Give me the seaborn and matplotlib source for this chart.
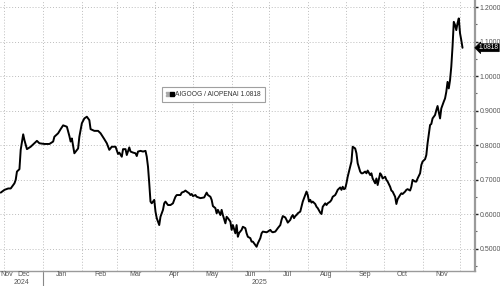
import numpy as np
import pandas as pd
import matplotlib
matplotlib.use("Agg")
import matplotlib.pyplot as plt
import matplotlib.transforms as mtransforms
from matplotlib.lines import Line2D
from matplotlib.legend_handler import HandlerTuple
import seaborn as sns

series_name = "AIGOOG / AIOPENAI"
last_value = 1.0818

dates = [
    "2024-11-28", "2024-12-01", "2024-12-04", "2024-12-06", "2024-12-09", "2024-12-10",
    "2024-12-11", "2024-12-13", "2024-12-14", "2024-12-16", "2024-12-17", "2024-12-19",
    "2024-12-22", "2024-12-25", "2024-12-27", "2024-12-29", "2025-01-02", "2025-01-06",
    "2025-01-09", "2025-01-10", "2025-01-13", "2025-01-15", "2025-01-17", "2025-01-20",
    "2025-01-22", "2025-01-23", "2025-01-24", "2025-01-26", "2025-01-29", "2025-01-30",
    "2025-02-01", "2025-02-03", "2025-02-05", "2025-02-07", "2025-02-08", "2025-02-11",
    "2025-02-14", "2025-02-16", "2025-02-19", "2025-02-21", "2025-02-23", "2025-02-25",
    "2025-02-28", "2025-03-02", "2025-03-03", "2025-03-05", "2025-03-06", "2025-03-08",
    "2025-03-09", "2025-03-11", "2025-03-12", "2025-03-14", "2025-03-16", "2025-03-17",
    "2025-03-18", "2025-03-20", "2025-03-22", "2025-03-24", "2025-03-25", "2025-03-26",
    "2025-03-27", "2025-03-28", "2025-03-29", "2025-03-31", "2025-04-01", "2025-04-02",
    "2025-04-04", "2025-04-05", "2025-04-07", "2025-04-08", "2025-04-09", "2025-04-11",
    "2025-04-13", "2025-04-15", "2025-04-16", "2025-04-17", "2025-04-18", "2025-04-21",
    "2025-04-22", "2025-04-24", "2025-04-25", "2025-04-26", "2025-04-28", "2025-04-29",
    "2025-04-30", "2025-05-01", "2025-05-03", "2025-05-04", "2025-05-07", "2025-05-10",
    "2025-05-11", "2025-05-12", "2025-05-13", "2025-05-15", "2025-05-16", "2025-05-17",
    "2025-05-19", "2025-05-20", "2025-05-21", "2025-05-23", "2025-05-24", "2025-05-25",
    "2025-05-27", "2025-05-28", "2025-05-29", "2025-05-31", "2025-06-01", "2025-06-02",
    "2025-06-04", "2025-06-05", "2025-06-06", "2025-06-07", "2025-06-09", "2025-06-10",
    "2025-06-12", "2025-06-13", "2025-06-14", "2025-06-16", "2025-06-17", "2025-06-18",
    "2025-06-20", "2025-06-21", "2025-06-22", "2025-06-24", "2025-06-25", "2025-06-26",
    "2025-06-29", "2025-06-30", "2025-07-02", "2025-07-03", "2025-07-04", "2025-07-06",
    "2025-07-07", "2025-07-08", "2025-07-10", "2025-07-11", "2025-07-12", "2025-07-14",
    "2025-07-15", "2025-07-16", "2025-07-18", "2025-07-19", "2025-07-20", "2025-07-21",
    "2025-07-22", "2025-07-23", "2025-07-24", "2025-07-26", "2025-07-27", "2025-07-28",
    "2025-07-30", "2025-07-31", "2025-08-01", "2025-08-02", "2025-08-03", "2025-08-04",
    "2025-08-05", "2025-08-07", "2025-08-08", "2025-08-09", "2025-08-11", "2025-08-12",
    "2025-08-13", "2025-08-15", "2025-08-16", "2025-08-17", "2025-08-19", "2025-08-20",
    "2025-08-21", "2025-08-23", "2025-08-24", "2025-08-25", "2025-08-27", "2025-08-28",
    "2025-08-29", "2025-08-30", "2025-08-31", "2025-09-01", "2025-09-02", "2025-09-04",
    "2025-09-05", "2025-09-06", "2025-09-08", "2025-09-09", "2025-09-10", "2025-09-12",
    "2025-09-13", "2025-09-14", "2025-09-16", "2025-09-17", "2025-09-18", "2025-09-20",
    "2025-09-21", "2025-09-22", "2025-09-24", "2025-09-25", "2025-09-26", "2025-09-28",
    "2025-09-29", "2025-09-30", "2025-10-02", "2025-10-03", "2025-10-04", "2025-10-06",
    "2025-10-07", "2025-10-08", "2025-10-10", "2025-10-11", "2025-10-12", "2025-10-14",
    "2025-10-15", "2025-10-16", "2025-10-18", "2025-10-19", "2025-10-20", "2025-10-22",
    "2025-10-23", "2025-10-24", "2025-10-26", "2025-10-27", "2025-10-28", "2025-10-30",
    "2025-10-31", "2025-11-01", "2025-11-03", "2025-11-04", "2025-11-05", "2025-11-07",
    "2025-11-08", "2025-11-09", "2025-11-11", "2025-11-12", "2025-11-13", "2025-11-15",
    "2025-11-16", "2025-11-17", "2025-11-18", "2025-11-19", "2025-11-20", "2025-11-21",
    "2025-11-22", "2025-11-23", "2025-11-24", "2025-11-25", "2025-11-26", "2025-11-27",
    "2025-11-28", "2025-11-29", "2025-11-30", "2025-12-01", "2025-12-02", "2025-12-03",
]

values = [
    0.662, 0.670, 0.674, 0.674, 0.689, 0.699,
    0.723, 0.730, 0.786, 0.831, 0.814, 0.788,
    0.795, 0.805, 0.812, 0.805, 0.803, 0.803,
    0.810, 0.824, 0.834, 0.846, 0.857, 0.853,
    0.826, 0.810, 0.819, 0.776, 0.790, 0.824,
    0.863, 0.877, 0.882, 0.872, 0.846, 0.841,
    0.841, 0.834, 0.817, 0.805, 0.786, 0.795,
    0.795, 0.774, 0.778, 0.766, 0.788, 0.788,
    0.771, 0.793, 0.781, 0.778, 0.776, 0.768,
    0.781, 0.783, 0.781, 0.783, 0.766, 0.737,
    0.689, 0.636, 0.631, 0.641, 0.607, 0.588,
    0.568, 0.592, 0.612, 0.631, 0.636, 0.626,
    0.626, 0.631, 0.641, 0.650, 0.655, 0.655,
    0.662, 0.665, 0.668, 0.665, 0.660, 0.655,
    0.658, 0.652, 0.655, 0.650, 0.646, 0.648,
    0.655, 0.662, 0.655, 0.650, 0.641, 0.623,
    0.617, 0.602, 0.612, 0.597, 0.612, 0.597,
    0.573, 0.592, 0.588, 0.578, 0.554, 0.568,
    0.544, 0.568, 0.534, 0.545, 0.554, 0.563,
    0.559, 0.544, 0.534, 0.530, 0.520, 0.520,
    0.510, 0.505, 0.515, 0.530, 0.544, 0.549,
    0.547, 0.549, 0.554, 0.549, 0.547, 0.549,
    0.554, 0.559, 0.568, 0.583, 0.594, 0.590,
    0.583, 0.575, 0.583, 0.592, 0.597, 0.588,
    0.594, 0.597, 0.602, 0.607, 0.621, 0.636,
    0.655, 0.665, 0.655, 0.636, 0.641, 0.633,
    0.636, 0.629, 0.621, 0.617, 0.604, 0.600,
    0.621, 0.631, 0.626, 0.631, 0.636, 0.641,
    0.650, 0.655, 0.662, 0.670, 0.677, 0.670,
    0.679, 0.672, 0.674, 0.689, 0.708, 0.737,
    0.752, 0.795, 0.790, 0.776, 0.747, 0.723,
    0.718, 0.718, 0.723, 0.718, 0.726, 0.713,
    0.718, 0.703, 0.689, 0.703, 0.684, 0.718,
    0.713, 0.703, 0.708, 0.699, 0.694, 0.679,
    0.668, 0.665, 0.650, 0.629, 0.643, 0.655,
    0.660, 0.658, 0.665, 0.670, 0.672, 0.668,
    0.679, 0.699, 0.694, 0.694, 0.703, 0.718,
    0.742, 0.752, 0.759, 0.771, 0.805, 0.858,
    0.861, 0.877, 0.887, 0.901, 0.913, 0.877,
    0.906, 0.916, 0.926, 0.935, 0.954, 0.983,
    0.964, 0.988, 1.027, 1.085, 1.157, 1.148,
    1.133, 1.153, 1.167, 1.124, 1.104, 1.0818,
]

y_ticks = [0.5, 0.6, 0.7, 0.8, 0.9, 1.0, 1.1, 1.2]
month_labels = ["Nov", "Dec", "Jan", "Feb", "Mar", "Apr", "May", "Jun",
                "Jul", "Aug", "Sep", "Oct", "Nov"]
year_labels = ["2024", "2025"]

df = pd.DataFrame({"date": pd.to_datetime(dates), "value": values})

sns.set_style("white")
plt.rcParams["font.family"] = ["Liberation Sans", "DejaVu Sans"]
FS = 5.0
TXT = "#555555"

fig = plt.figure(figsize=(5.0, 2.86), dpi=100)
ax = fig.add_axes([0.0, 15 / 286, 475 / 500, 271 / 286])

sns.lineplot(data=df, x="date", y="value", ax=ax, color="black", lw=1.4)

x0 = pd.Timestamp("2024-11-27 10:00")
x1 = pd.Timestamp("2025-12-13")
ax.set_xlim(x0, x1)
ax.set_ylim(0.4348, 1.2203)

# grid
grid_kw = dict(color="#bdbdbd", lw=0.7, ls=(0, (1, 2)), zorder=0)
for yv in y_ticks:
    ax.axhline(yv, **grid_kw)
month_starts = pd.date_range("2024-12-01", "2025-12-01", freq="MS")
for m in month_starts:
    ax.axvline(m, **grid_kw)

# spines
for s in ["top", "left"]:
    ax.spines[s].set_visible(False)
ax.spines["right"].set_color("#9a9a9a")
ax.spines["right"].set_linewidth(1.6)
ax.spines["bottom"].set_color("#9a9a9a")
ax.spines["bottom"].set_linewidth(1.0)

# y axis on right
ax.yaxis.tick_right()
ax.set_yticks(y_ticks)
ax.set_yticklabels([f"{v:.4f}" for v in y_ticks])
ax.set_yticks(np.arange(0.45, 1.21, 0.1), minor=True)
ax.tick_params(axis="y", which="major", direction="out", length=2.5, width=1.0,
               color="#222222", labelsize=FS, labelcolor=TXT, pad=0.8)
ax.tick_params(axis="y", which="minor", direction="out", length=1.5, width=0.8,
               color="#666666")
ax.set_ylabel("")
ax.set_xlabel("")

# x axis: ticks at month starts, labels at mid-month
ax.set_xticks(month_starts)
ax.set_xticklabels([])
ax.tick_params(axis="x", which="major", direction="out", length=2, width=0.8,
               color="#888888")
trans = mtransforms.blended_transform_factory(ax.transData, fig.transFigure)
ax.text(x0, 1 - 275 / 286, month_labels[0], transform=trans, ha="left",
        va="center", fontsize=FS, color=TXT)
label_pos = [m + pd.Timedelta(days=15) for m in month_starts[:-1]]
for lab, pos in zip(month_labels[1:], label_pos):
    ax.text(pos, 1 - 275 / 286, lab, transform=trans, ha="center", va="center",
            fontsize=FS, color=TXT)
jan1 = pd.Timestamp("2025-01-01")
ax.text(x0 + (jan1 - x0) / 2, 1 - 282.5 / 286, year_labels[0], transform=trans,
        ha="center", va="center", fontsize=FS, color=TXT)
ax.text(jan1 + (x1 - jan1) / 2, 1 - 282.5 / 286, year_labels[1], transform=trans,
        ha="center", va="center", fontsize=FS, color=TXT)
ax.plot([jan1, jan1], [1 - 272 / 286, 0.0], transform=trans, color="#888888",
        lw=0.8, clip_on=False)

# last value tag
ttrans = mtransforms.blended_transform_factory(ax.transAxes, ax.transData)
ax.text(1.008, last_value, f"{last_value:.4f}", transform=ttrans, ha="left",
        va="center", fontsize=4.8, color="white", zorder=10,
        bbox=dict(boxstyle="larrow,pad=0.06", fc="black", ec="black", lw=0.5))

# legend
h = (Line2D([], [], ls="none", marker="$\\equiv$", color="#aaaaaa", ms=3.3),
     Line2D([], [], ls="none", marker="s", color="black", ms=3.3))
leg = ax.legend([h], [f"{series_name} {last_value:.4f}"],
                handler_map={tuple: HandlerTuple(ndivide=None, pad=0.15)},
                loc="upper left", bbox_to_anchor=(0.341, 0.679),
                fontsize=4.8, frameon=True, fancybox=False, handlelength=1.1,
                handletextpad=0.3, borderpad=0.6, borderaxespad=0)
leg.get_frame().set_edgecolor("#888888")
leg.get_frame().set_linewidth(0.8)
for t in leg.get_texts():
    t.set_color("#333333")

fig.savefig("out.png", dpi=100)
